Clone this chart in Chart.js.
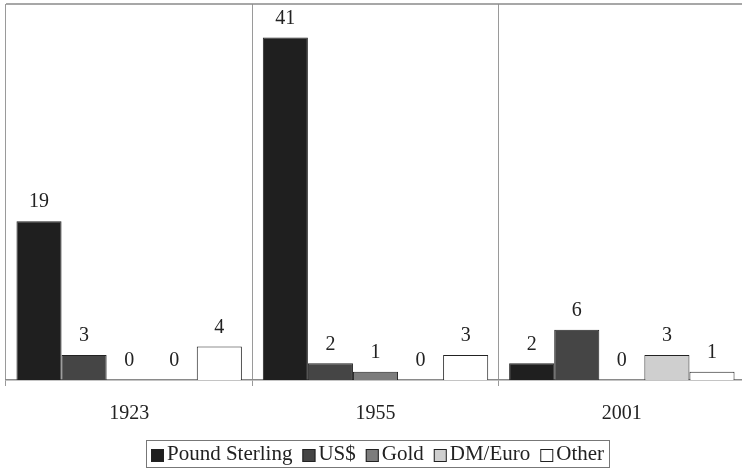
<!DOCTYPE html>
<html>
<head>
<meta charset="utf-8">
<script src="https://cdn.jsdelivr.net/npm/chart.js@4/dist/chart.umd.min.js"></script>
<style>
html,body{margin:0;padding:0;background:#fff;overflow:hidden;}
#wrap{width:745px;height:469px;position:relative;}
</style>
</head>
<body>
<div id="wrap"><canvas id="c"></canvas></div>
<script>
const categories = ["1923", "1955", "2001"];
const seriesNames = ["Pound Sterling", "US$", "Gold", "DM/Euro", "Other"];
const poundSterling = [19, 41, 2];
const usDollar = [3, 2, 6];
const gold = [0, 1, 0];
const dmEuro = [0, 0, 3];
const other = [4, 3, 1];

const fills = ["#1f1f1f", "#454545", "#7c7c7c", "#cfcfcf", "#ffffff"];
const values = [poundSterling, usDollar, gold, dmEuro, other];
const FONT = "'Liberation Serif', 'Times New Roman', serif";

const valueLabels = {
  id: 'valueLabels',
  afterDatasetsDraw(chart) {
    const ctx = chart.ctx;
    ctx.save();
    ctx.font = "20px " + FONT;
    ctx.fillStyle = "#222";
    ctx.textAlign = "center";
    ctx.textBaseline = "bottom";
    chart.data.datasets.forEach((ds, i) => {
      const meta = chart.getDatasetMeta(i);
      meta.data.forEach((bar, j) => {
        ctx.fillText(String(ds.data[j]), bar.x, bar.y - 9);
      });
    });
    ctx.restore();
  }
};

const frameAndLegend = {
  id: 'frameAndLegend',
  afterDraw(chart) {
    const ctx = chart.ctx;
    const a = chart.chartArea;
    ctx.save();
    ctx.strokeStyle = "#8a8a8a";
    ctx.lineWidth = 1.5;
    ctx.beginPath();
    ctx.moveTo(a.left, a.top);
    ctx.lineTo(a.right + 5, a.top);
    ctx.stroke();

    // custom legend with tight spacing, boxed
    ctx.font = "21px " + FONT;
    const box = 13, gapText = 3, gapItem = 10, padX = 5;
    const items = chart.data.datasets.map(ds => ({ label: ds.label, color: ds.backgroundColor }));
    let total = 0;
    items.forEach((it, k) => {
      it.w = ctx.measureText(it.label).width;
      total += box + gapText + it.w + (k < items.length - 1 ? gapItem : 0);
    });
    const width = total + padX * 2;
    const cx = (a.left + a.right) / 2 + 2;
    const left = Math.round(cx - width / 2);
    const top = 440, h = 27;
    ctx.strokeStyle = "#777";
    ctx.lineWidth = 1;
    ctx.strokeRect(left + 0.5, top + 0.5, Math.round(width), h);
    let x = left + padX;
    const midY = top + h / 2 + 1;
    ctx.textBaseline = "middle";
    ctx.textAlign = "left";
    items.forEach(it => {
      ctx.fillStyle = it.color;
      ctx.fillRect(x, midY - box / 2 + 1, box, box);
      ctx.strokeStyle = "#222";
      ctx.strokeRect(x + 0.5, midY - box / 2 + 1.5, box - 1, box - 1);
      x += box + gapText;
      ctx.fillStyle = "#222";
      ctx.fillText(it.label, x, midY);
      x += it.w + gapItem;
    });
    ctx.restore();
  }
};

new Chart(document.getElementById('c'), {
  type: 'bar',
  data: {
    labels: categories,
    datasets: seriesNames.map((name, i) => ({
      label: name,
      data: values[i],
      backgroundColor: fills[i],
      borderColor: "#222",
      borderWidth: 1,
      categoryPercentage: 0.915,
      barPercentage: 1.0
    }))
  },
  options: {
    responsive: true,
    maintainAspectRatio: false,
    animation: false,
    layout: { padding: { left: 6, top: 4, right: 0, bottom: 27 } },
    scales: {
      x: {
        grid: { offset: true, color: "#9a9a9a", lineWidth: 1, tickLength: 6, drawOnChartArea: true },
        border: { color: "#8a8a8a", width: 1.5 },
        ticks: { font: { family: FONT, size: 20 }, color: "#222", padding: 16 }
      },
      y: {
        display: false,
        min: 0,
        max: 45
      }
    },
    plugins: {
      legend: { display: false },
      tooltip: { enabled: false }
    }
  },
  plugins: [valueLabels, frameAndLegend]
});
</script>
</body>
</html>
